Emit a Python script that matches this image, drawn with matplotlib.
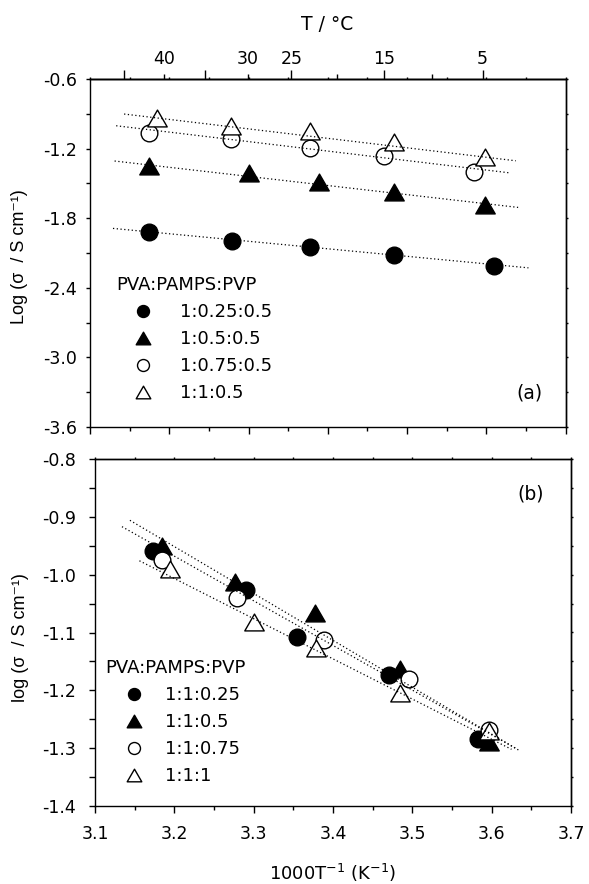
import numpy as np
import matplotlib
matplotlib.use('Agg')
import matplotlib.pyplot as plt
from matplotlib.path import Path
from matplotlib.lines import Line2D
from matplotlib.ticker import MultipleLocator, FormatStrFormatter, NullFormatter

plt.rcParams['font.family'] = ['DejaVu Sans']
plt.rcParams['mathtext.fontset'] = 'dejavusans'
plt.rcParams['axes.unicode_minus'] = False

# ---------------- data : panel (a) ----------------
a_labels = ['1:0.25:0.5', '1:0.5:0.5', '1:0.75:0.5', '1:1:0.5']
a_x_fc = [3.175, 3.279, 3.378, 3.484, 3.610]
a_y_fc = [-1.917, -1.995, -2.047, -2.119, -2.211]
a_x_ft = [3.175, 3.301, 3.389, 3.483, 3.598]
a_y_ft = [-1.348, -1.414, -1.486, -1.572, -1.687]
a_x_oc = [3.174, 3.278, 3.378, 3.471, 3.584]
a_y_oc = [-1.063, -1.118, -1.198, -1.264, -1.402]
a_x_ot = [3.185, 3.278, 3.378, 3.484, 3.598]
a_y_ot = [-0.935, -1.006, -1.049, -1.141, -1.270]
# fitted (dotted) lines, end points
a_fit_x_fc = [3.129, 3.653]
a_fit_y_fc = [-1.888, -2.228]
a_fit_x_ft = [3.131, 3.640]
a_fit_y_ft = [-1.307, -1.707]
a_fit_x_oc = [3.133, 3.628]
a_fit_y_oc = [-1.003, -1.408]
a_fit_x_ot = [3.143, 3.637]
a_fit_y_ot = [-0.902, -1.305]

# ---------------- data : panel (b) ----------------
b_labels = ['1:1:0.25', '1:1:0.5', '1:1:0.75', '1:1:1']
b_x_fc = [3.173, 3.290, 3.355, 3.471, 3.583]
b_y_fc = [-0.959, -1.027, -1.108, -1.174, -1.284]
b_x_ft = [3.184, 3.277, 3.377, 3.484, 3.597]
b_y_ft = [-0.950, -1.013, -1.067, -1.163, -1.290]
b_x_oc = [3.184, 3.279, 3.389, 3.496, 3.597]
b_y_oc = [-0.974, -1.041, -1.113, -1.180, -1.268]
b_x_ot = [3.195, 3.300, 3.378, 3.484, 3.597]
b_y_ot = [-0.991, -1.081, -1.127, -1.204, -1.271]
b_fit_x_1 = [3.144, 3.636]
b_fit_y_1 = [-0.906, -1.305]
b_fit_x_2 = [3.134, 3.630]
b_fit_y_2 = [-0.917, -1.300]
b_fit_x_3 = [3.156, 3.625]
b_fit_y_3 = [-0.976, -1.302]

# temperature axis (top of panel a)
temp_major = [45, 35, 25, 15, 5]
temp_major_labels = ['', '', '25', '15', '5']
temp_minor = [40, 30, 20, 10]
temp_minor_labels = ['40', '30', '', '']

legend_title = 'PVA:PAMPS:PVP'

# ---------------- styling ----------------
W, H = 589, 884
PT = 0.72  # points per pixel at dpi 100
TICK_FS = 12.5
LAB_FS = 13
ROT_FAMILY = ['Liberation Sans', 'DejaVu Sans']

tri = Path([(-0.5, -0.433), (0.5, -0.433), (0.0, 0.433), (-0.5, -0.433)],
           [Path.MOVETO, Path.LINETO, Path.LINETO, Path.CLOSEPOLY])

styles = [
    dict(marker='o', mfc='black', ms=12.0),
    dict(marker=tri, mfc='black', ms=14.0),
    dict(marker='o', mfc='white', ms=12.0),
    dict(marker=tri, mfc='white', ms=14.0),
]
leg_ms = [8.6, 10.5, 8.6, 10.5]

fig = plt.figure(figsize=(W / 100, H / 100), dpi=100)
ax1 = fig.add_axes([90 / W, 1 - 427 / H, 475.7 / W, 348 / H])
ax2 = fig.add_axes([95 / W, 1 - 806 / H, 476 / W, 347 / H])

for ax in (ax1, ax2):
    for s in ax.spines.values():
        s.set_linewidth(1.0)


def draw(ax, xs, ys, fits):
    for x, y, st in zip(xs, ys, styles):
        ax.plot(x, y, ls='none', marker=st['marker'], ms=st['ms'],
                mfc=st['mfc'], mec='black', mew=1.0, zorder=3)
    for fx_, fy_ in fits:
        ax.plot(fx_, fy_, ls=(0, (1, 2)), color='black', lw=0.9, zorder=4)


draw(ax1, [a_x_fc, a_x_ft, a_x_oc, a_x_ot], [a_y_fc, a_y_ft, a_y_oc, a_y_ot],
     [(a_fit_x_fc, a_fit_y_fc), (a_fit_x_ft, a_fit_y_ft),
      (a_fit_x_oc, a_fit_y_oc), (a_fit_x_ot, a_fit_y_ot)])
draw(ax2, [b_x_fc, b_x_ft, b_x_oc, b_x_ot], [b_y_fc, b_y_ft, b_y_oc, b_y_ot],
     [(b_fit_x_1, b_fit_y_1), (b_fit_x_2, b_fit_y_2), (b_fit_x_3, b_fit_y_3)])

# ---------------- axes (a) ----------------
ax1.set_xlim(3.1, 3.7)
ax1.set_ylim(-3.6, -0.6)
ax1.xaxis.set_major_locator(MultipleLocator(0.1))
ax1.xaxis.set_minor_locator(MultipleLocator(0.05))
ax1.xaxis.set_major_formatter(NullFormatter())
ax1.yaxis.set_major_locator(MultipleLocator(0.6))
ax1.yaxis.set_minor_locator(MultipleLocator(0.3))
ax1.yaxis.set_major_formatter(FormatStrFormatter('%.1f'))
ax1.tick_params(axis='x', which='major', direction='out', length=7 * PT, width=1.0)
ax1.tick_params(axis='x', which='minor', direction='out', length=4 * PT, width=1.0)
ax1.tick_params(axis='y', which='both', direction='out', length=4 * PT, width=1.0,
                labelsize=TICK_FS, pad=9 * PT)

# tiny ticks on top and right of (a)
top1 = ax1.secondary_xaxis('top')
top1.set_xticks(np.arange(3.1, 3.701, 0.05))
top1.xaxis.set_major_formatter(NullFormatter())
top1.tick_params(direction='out', length=1.8 * PT, width=1.0)
right1 = ax1.secondary_yaxis('right')
right1.set_yticks(np.arange(-3.6, -0.59, 0.3))
right1.yaxis.set_major_formatter(NullFormatter())
right1.tick_params(direction='out', length=2 * PT, width=1.0)
for sp in list(top1.spines.values()) + list(right1.spines.values()):
    sp.set_linewidth(1.0)


def k_to_c(x):
    x = np.asarray(x, dtype=float)
    with np.errstate(divide='ignore', invalid='ignore'):
        return 1000.0 / x - 273.15


def c_to_k(t):
    t = np.asarray(t, dtype=float)
    with np.errstate(divide='ignore', invalid='ignore'):
        return 1000.0 / (t + 273.15)


temp_ax = ax1.secondary_xaxis('top', functions=(k_to_c, c_to_k))
temp_ax.set_xticks(temp_major, temp_major_labels)
temp_ax.set_xticks(temp_minor, temp_minor_labels, minor=True)
temp_ax.tick_params(which='major', direction='out', length=9 * PT, width=1.0,
                    labelsize=TICK_FS, pad=2.0 * PT)
temp_ax.tick_params(which='minor', direction='out', length=5 * PT, width=1.0,
                    labelsize=TICK_FS, pad=6.0 * PT)
for sp in temp_ax.spines.values():
    sp.set_linewidth(1.0)

# ---------------- axes (b) ----------------
ax2.set_xlim(3.1, 3.7)
ax2.set_ylim(-1.4, -0.8)
ax2.xaxis.set_major_locator(MultipleLocator(0.1))
ax2.xaxis.set_minor_locator(MultipleLocator(0.05))
ax2.xaxis.set_major_formatter(FormatStrFormatter('%.1f'))
ax2.yaxis.set_major_locator(MultipleLocator(0.1))
ax2.yaxis.set_minor_locator(MultipleLocator(0.05))
ax2.yaxis.set_major_formatter(FormatStrFormatter('%.1f'))
ax2.tick_params(axis='x', which='major', direction='out', length=7 * PT, width=1.0,
                labelsize=TICK_FS, pad=12 * PT)
ax2.tick_params(axis='x', which='minor', direction='out', length=4 * PT, width=1.0)
ax2.tick_params(axis='y', which='both', direction='out', length=6 * PT, width=1.0,
                labelsize=TICK_FS, pad=13 * PT)

top2 = ax2.secondary_xaxis('top')
top2.set_xticks(np.arange(3.1, 3.701, 0.05))
top2.xaxis.set_major_formatter(NullFormatter())
top2.tick_params(direction='out', length=1.8 * PT, width=1.0)
right2 = ax2.secondary_yaxis('right')
right2.set_yticks(np.arange(-1.4, -0.79, 0.05))
right2.yaxis.set_major_formatter(NullFormatter())
right2.tick_params(direction='out', length=2.5 * PT, width=1.0)
for sp in list(top2.spines.values()) + list(right2.spines.values()):
    sp.set_linewidth(1.0)


# ---------------- legends ----------------
def add_legend(ax, labels, title_left, title_cy, marker_x, text_x, row_px):
    handles = [Line2D([], [], ls='none', marker=st['marker'], ms=ms,
                      mfc=st['mfc'], mec='black', mew=1.0)
               for st, ms in zip(styles, leg_ms)]
    fs = LAB_FS
    hl = 2 * (marker_x - title_left) * PT / fs
    htp = (text_x - title_left - 2 * (marker_x - title_left)) * PT / fs
    row_h = 1.0 * fs
    ls = (row_px * PT - row_h) / fs
    top_px = title_cy + (0.10 - 0.5) * fs / PT
    leg = ax.legend(handles, labels, title=legend_title, loc='upper left',
                    bbox_to_anchor=(title_left / W, 1 - top_px / H),
                    bbox_transform=fig.transFigure, frameon=False,
                    borderpad=0, borderaxespad=0, handlelength=hl,
                    handletextpad=htp, labelspacing=ls, alignment='left',
                    fontsize=fs, title_fontsize=fs, numpoints=1)
    return leg


add_legend(ax1, a_labels, 116.7, 283.5, 143.3, 180.0, 27.0)
add_legend(ax2, b_labels, 105.6, 666.5, 133.8, 165.1, 27.0)

# ---------------- texts ----------------
fig.text(529.3 / W, 1 - 393.3 / H, '(a)', ha='center', va='center', fontsize=13.5)
fig.text(530.3 / W, 1 - 493.9 / H, '(b)', ha='center', va='center', fontsize=13.5)
fig.text(327 / W, 1 - 25 / H, 'T / °C', ha='center', va='center', fontsize=13.5)
fig.text(20 / W, 1 - 257 / H, 'Log (σ  / S cm⁻¹)', rotation=90,
         ha='center', va='center', fontsize=LAB_FS, family=ROT_FAMILY)
fig.text(20.7 / W, 1 - 638 / H, 'log (σ  / S cm⁻¹)', rotation=90,
         ha='center', va='center', fontsize=LAB_FS, family=ROT_FAMILY)
fig.text(333 / W, 1 - 872.5 / H, '1000T$^{\\mathregular{-1}}$ (K$^{\\mathregular{-1}}$)',
         ha='center', va='center', fontsize=LAB_FS)

fig.savefig('out.png', dpi=100)
